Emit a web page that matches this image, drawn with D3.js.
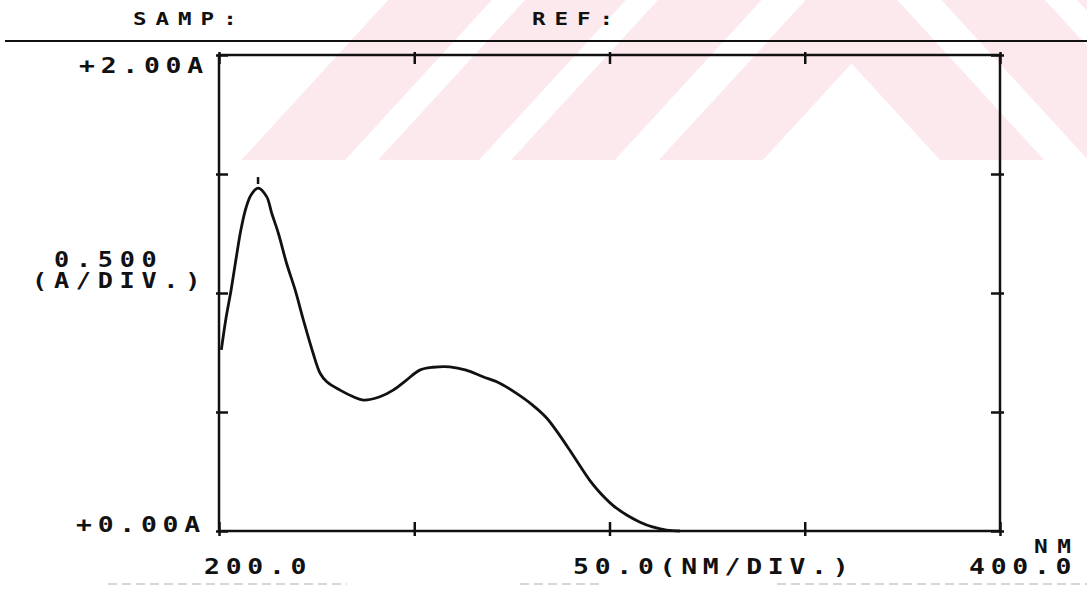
<!DOCTYPE html>
<html>
<head>
<meta charset="utf-8">
<script src="https://cdn.jsdelivr.net/npm/d3@7"></script>
<style>
    html, body {
        margin: 0;
        padding: 0;
        background: #fff;
    }
    svg {
        display: block;
    }
    .lbl {
        font-family: 'DejaVu Sans Mono', monospace;
        font-weight: bold;
        fill: #111;
    }
</style>
</head>
<body>
<svg id="chart" width="1087" height="589"></svg>
<script>
    // spectrum (nm, absorbance)
    const wavelengths = [200.6, 201.8, 203.1, 204.4, 205.6, 206.9, 208.2, 210.0, 212.2, 213.5, 215.2,
        217.3, 219.5, 221.6, 224.1, 225.9, 227.6, 231.0, 234.4, 237.0, 241.2, 244.6, 248.0, 251.4,
        254.8, 259.1, 263.3, 267.6, 271.9, 276.1, 280.3, 283.9, 287.2, 289.8, 292.3, 294.9, 297.4,
        300.8, 304.4, 307.7, 311.0, 314.6, 318.0];
    const absorbance = [0.761, 0.895, 1.013, 1.147, 1.265, 1.357, 1.412, 1.441, 1.405, 1.335, 1.251,
        1.125, 1.013, 0.887, 0.747, 0.663, 0.627, 0.592, 0.564, 0.550, 0.564, 0.592, 0.634, 0.676,
        0.688, 0.690, 0.676, 0.648, 0.621, 0.579, 0.529, 0.475, 0.403, 0.340, 0.277, 0.214, 0.164,
        0.109, 0.067, 0.038, 0.017, 0.004, 0.0];

    const xTicks = [200, 250, 300, 350, 400];
    const yTicks = [0, 0.5, 1.0, 1.5, 2.0];
    const headerLabels = ["SAMP:", "REF:"];
    const yLabels = ["+2.00A", "+0.00A"];
    const yScaleLabels = ["0.500", "(A/DIV.)"];
    const xLabels = ["200.0", "50.0(NM/DIV.)", "400.0"];
    const xUnit = "NM";

    const svg = d3.select("#chart");

    // faint striped watermark behind the top of the sheet
    const wmApex = 851.5, wmSlope = 1.09;
    const wmBands = [[-505, -392], [-356, -246], [-211, -98], [-50, 63.5]];
    svg.append("defs").append("clipPath").attr("id", "wmClip")
        .append("rect").attr("x", 0).attr("y", 0).attr("width", 1087).attr("height", 160);
    const wm = svg.append("g").attr("clip-path", "url(#wmClip)");
    wmBands.forEach(b => {
        const L = 900;
        const pts = [
            [wmApex - L, b[0] + wmSlope * L], [wmApex, b[0]], [wmApex + L, b[0] + wmSlope * L],
            [wmApex + L, b[1] + wmSlope * L], [wmApex, b[1]], [wmApex - L, b[1] + wmSlope * L]
        ];
        wm.append("polygon")
            .attr("points", pts.map(p => p.join(",")).join(" "))
            .attr("fill", "#fce9ed");
    });

    // plotter style text: wide glyphs, wide pitch
    function label(txt, lx, ly, size, spacing, sx) {
        svg.append("text")
            .attr("class", "lbl")
            .attr("transform", `translate(${lx},${ly}) scale(${sx},1)`)
            .style("font-size", size + "px")
            .style("letter-spacing", spacing + "px")
            .text(txt);
    }

    // header
    label(headerLabels[0], 133, 25, 18, 7.2, 1.25);
    label(headerLabels[1], 532, 25, 18, 7.2, 1.25);
    svg.append("line").attr("x1", 5).attr("x2", 1087).attr("y1", 41).attr("y2", 41)
        .attr("stroke", "#111").attr("stroke-width", 2);

    const x = d3.scaleLinear().domain([200, 400]).range([219, 1000]);
    const y = d3.scaleLinear().domain([0, 2]).range([531, 55]);

    // frame with cross ticks on all four sides
    const frame = svg.append("g");
    const axes = [
        { ax: d3.axisLeft(y).tickValues(yTicks), tr: [x(200), 0], attr: "x1", out: -3 },
        { ax: d3.axisRight(y).tickValues(yTicks), tr: [x(400), 0], attr: "x1", out: 4 },
        { ax: d3.axisTop(x).tickValues(xTicks), tr: [0, y(2)], attr: "y1", out: -3 },
        { ax: d3.axisBottom(x).tickValues(xTicks), tr: [0, y(0)], attr: "y1", out: 5 }
    ];
    axes.forEach(a => {
        const g = frame.append("g")
            .attr("transform", `translate(${a.tr[0]},${a.tr[1]})`)
            .call(a.ax.tickSize(-9).tickFormat(""));
        g.select(".domain").remove();
        g.selectAll(".tick line")
            .attr(a.attr, a.out)
            .attr("stroke", "#111")
            .attr("stroke-width", 2.5);
    });
    frame.append("rect")
        .attr("x", x(200)).attr("y", y(2))
        .attr("width", x(400) - x(200)).attr("height", y(0) - y(2))
        .attr("fill", "none").attr("stroke", "#111").attr("stroke-width", 2.5);

    // spectrum
    const pts = wavelengths.map((w, i) => [w, absorbance[i]]);
    const line = d3.line()
        .x(d => x(d[0]))
        .y(d => y(d[1]))
        .curve(d3.curveCatmullRom.alpha(0.5));
    svg.append("path")
        .attr("d", line(pts))
        .attr("fill", "none")
        .attr("stroke", "#111")
        .attr("stroke-width", 2.8)
        .attr("stroke-linejoin", "round");

    // peak marker
    const peak = pts.reduce((a, b) => (b[1] > a[1] ? b : a));
    svg.append("line")
        .attr("x1", x(peak[0])).attr("x2", x(peak[0]))
        .attr("y1", y(peak[1]) - 11).attr("y2", y(peak[1]) - 4)
        .attr("stroke", "#111").attr("stroke-width", 2.5);

    // axis labels
    label(yLabels[0], 79, 73, 22, 4.8, 1.2);
    label(yLabels[1], 76, 532, 22, 4.8, 1.2);
    label(yScaleLabels[0], 54, 267, 21, 5.6, 1.2);
    label(yScaleLabels[1], 32, 288, 21, 5.6, 1.2);
    label(xLabels[0], 204, 574, 22, 4.8, 1.2);
    label(xLabels[1], 573, 574, 22, 4.8, 1.2);
    label(xLabels[2], 969, 574, 22, 4.8, 1.2);
    label(xUnit, 1034, 553, 19, 8, 1.2);

    // scan remnants along the bottom edge
    [[108, 347], [520, 603], [777, 1087]].forEach(s => {
        svg.append("line")
            .attr("x1", s[0]).attr("x2", s[1]).attr("y1", 584).attr("y2", 584)
            .attr("stroke", "#c9c9c9").attr("stroke-width", 1.5)
            .attr("stroke-dasharray", "9 5");
    });
</script>
</body>
</html>
